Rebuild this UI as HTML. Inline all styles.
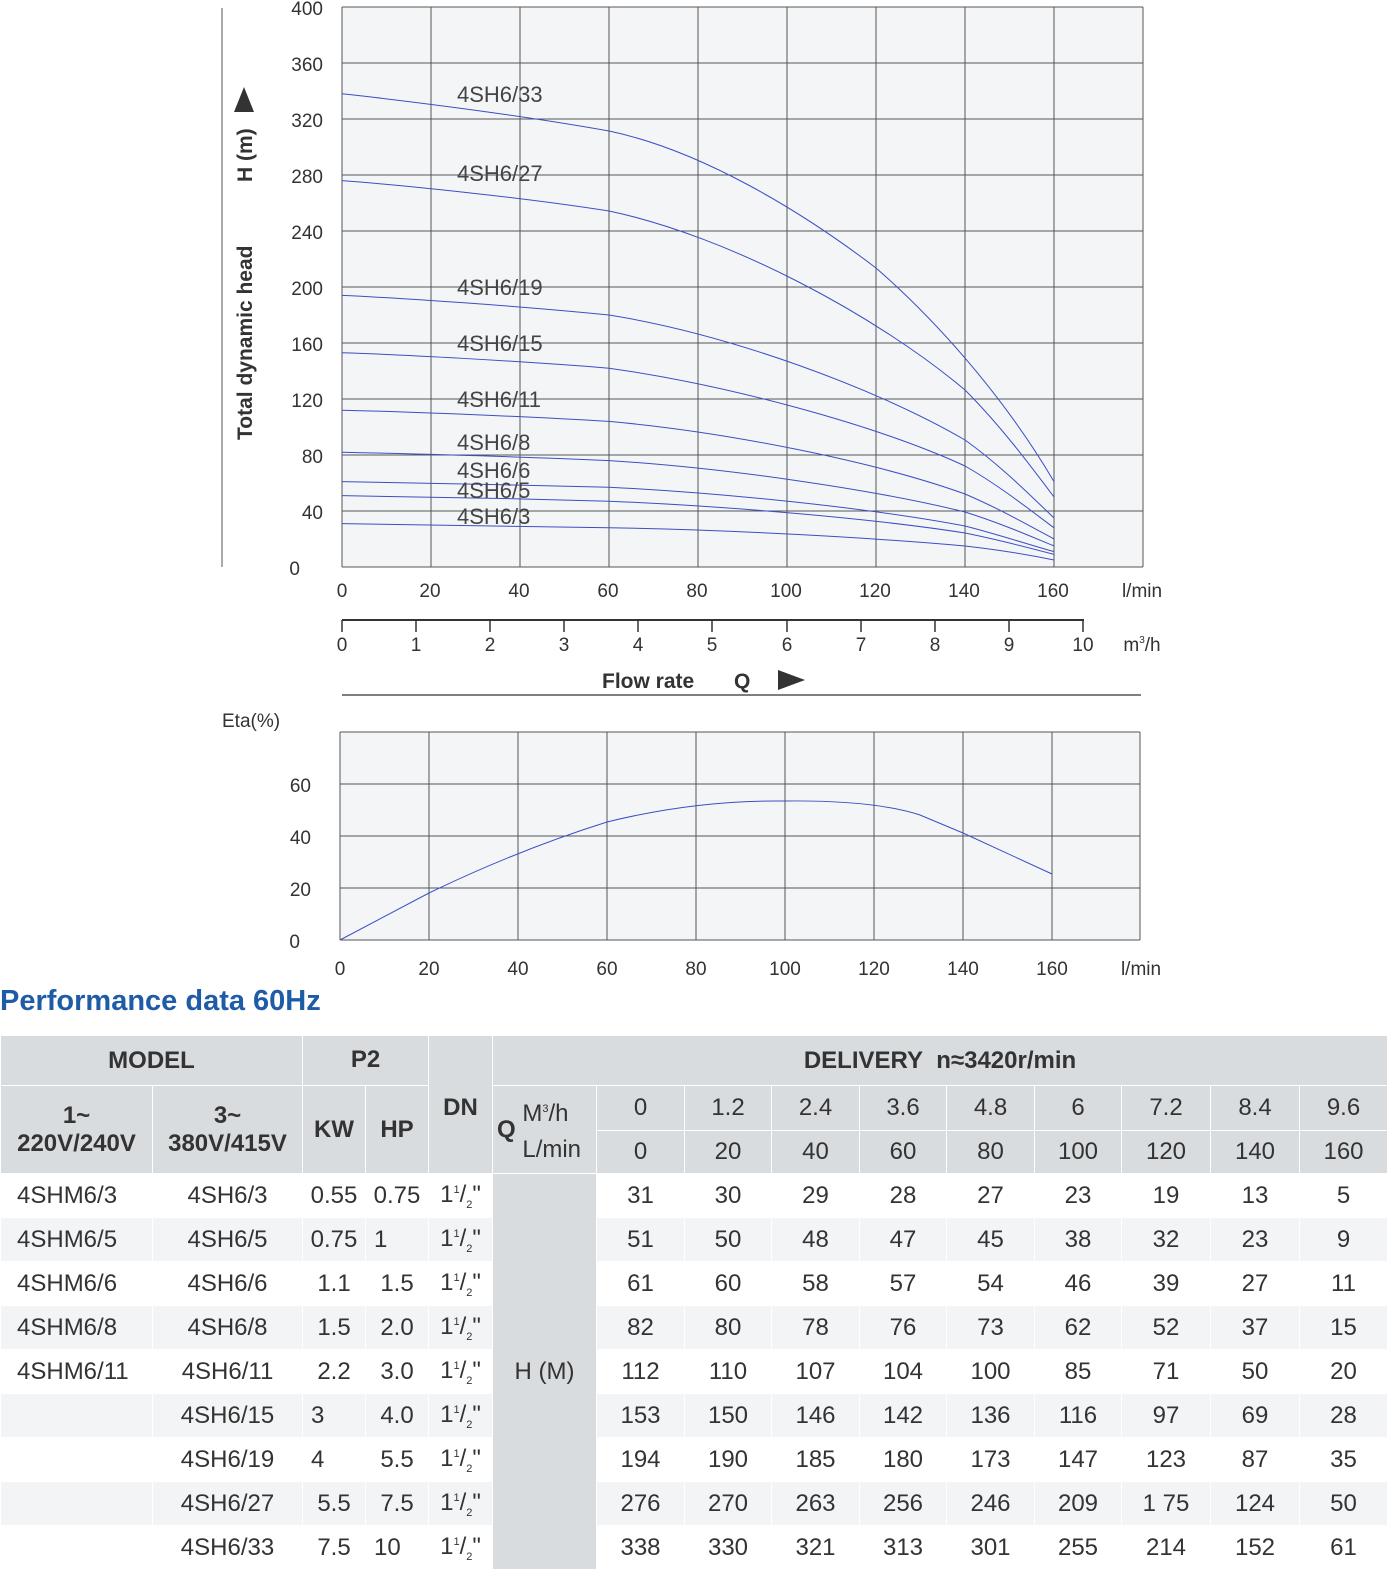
<!DOCTYPE html>
<html><head><meta charset="utf-8"><style>
body{margin:0;background:#fff;width:1400px;height:1583px;position:relative;overflow:hidden;font-family:"Liberation Sans",sans-serif}
svg{position:absolute;left:0;top:0}
.t{position:absolute;left:0;top:1035px;border-collapse:collapse;table-layout:fixed;font-family:"Liberation Sans Narrow","Liberation Sans",sans-serif;color:#333;font-size:24px}
.t td{border:1px solid #fff;text-align:center;padding:0;white-space:nowrap}
.h td{background:#d8dcdf;font-weight:bold;color:#333}
.h td.n{font-weight:normal}
.w td{background:#fff}
.g td{background:#f3f4f6}
.t td.hm{background:#d8dcdf;font-weight:normal}
.l{text-align:left!important;padding-left:16px!important}
sup,sub{font-size:11px}
</style></head><body>
<svg width="1400" height="1030" font-family="Liberation Sans, sans-serif">
<rect x="342" y="7" width="801" height="560" fill="#f4f5f7"/>
<g stroke="#555" stroke-width="1">
<line x1="342" y1="7" x2="1143" y2="7"/><line x1="342" y1="63" x2="1143" y2="63"/><line x1="342" y1="119" x2="1143" y2="119"/><line x1="342" y1="175" x2="1143" y2="175"/><line x1="342" y1="231" x2="1143" y2="231"/><line x1="342" y1="287" x2="1143" y2="287"/><line x1="342" y1="343" x2="1143" y2="343"/><line x1="342" y1="399" x2="1143" y2="399"/><line x1="342" y1="455" x2="1143" y2="455"/><line x1="342" y1="511" x2="1143" y2="511"/><line x1="342" y1="567" x2="1143" y2="567"/>
<line x1="342" y1="7" x2="342" y2="567"/><line x1="431" y1="7" x2="431" y2="567"/><line x1="520" y1="7" x2="520" y2="567"/><line x1="609" y1="7" x2="609" y2="567"/><line x1="698" y1="7" x2="698" y2="567"/><line x1="787" y1="7" x2="787" y2="567"/><line x1="876" y1="7" x2="876" y2="567"/><line x1="965" y1="7" x2="965" y2="567"/><line x1="1054" y1="7" x2="1054" y2="567"/><line x1="1143" y1="7" x2="1143" y2="567"/>
<line x1="222" y1="8" x2="222" y2="567"/>
</g>
<g id="curves" fill="none" stroke="#3a4fc4" stroke-width="1">
<path d="M342,523.6 C372,524.5 490,526.7 609,527.8 C728,529.5 876,538 965,546 C1000,550 1030,555 1054,560"/>
<path d="M342,495.6 C400,496.5 520,498.5 609,501.2 C728,506 876,519 965,533 C1000,540 1030,548 1054,554.4"/>
<path d="M342,481.6 C400,482.5 520,485 609,487.2 C728,493 876,509 965,526 C1000,535 1030,545 1054,551.6"/>
<path d="M342,452.2 C400,453.5 520,456.5 609,460.6 C728,468 876,490 965,512 C1000,523 1030,536 1054,546"/>
<path d="M342,410.2 C400,411.5 520,416 609,421.4 C728,432 876,462 965,494 C1000,509 1030,526 1054,539"/>
<path d="M342,352.8 C400,354.5 520,361 609,368.2 C728,385 876,425 965,466 C1000,486 1030,510 1054,527.8"/>
<path d="M342,295.4 C400,298 520,306 609,315 C728,334 876,388 965,440 C1000,465 1030,495 1054,518"/>
<path d="M342,180.6 C400,185 520,197 609,211 C728,236 876,315 965,390 C1000,425 1030,465 1054,497"/>
<path d="M342,93.8 C400,100 520,115 609,131 C700,150 800,210 876,268 C930,315 1000,390 1054,481.6"/>
</g>
<g font-size="22" fill="#444">
<text x="457" y="102">4SH6/33</text><text x="457" y="181">4SH6/27</text><text x="457" y="295">4SH6/19</text><text x="457" y="351">4SH6/15</text><text x="457" y="407">4SH6/11</text><text x="457" y="450">4SH6/8</text><text x="457" y="478">4SH6/6</text><text x="457" y="498">4SH6/5</text><text x="457" y="524">4SH6/3</text>
</g>
<g font-size="19" fill="#333" text-anchor="end">
<text x="323" y="15">400</text><text x="323" y="71">360</text><text x="323" y="127">320</text><text x="323" y="183">280</text><text x="323" y="239">240</text><text x="323" y="295">200</text><text x="323" y="351">160</text><text x="323" y="407">120</text><text x="323" y="463">80</text><text x="323" y="519">40</text><text x="300" y="575">0</text>
</g>
<text transform="translate(252,440) rotate(-90)" font-size="21" font-weight="bold" fill="#333">Total dynamic head</text>
<text transform="translate(252,182) rotate(-90)" font-size="21" font-weight="bold" fill="#333">H (m)</text>
<polygon points="244,87 234,112 254,112" fill="#333"/>
<g font-size="19" fill="#333" text-anchor="middle">
<text x="342" y="597">0</text><text x="430" y="597">20</text><text x="519" y="597">40</text><text x="608" y="597">60</text><text x="697" y="597">80</text><text x="786" y="597">100</text><text x="875" y="597">120</text><text x="964" y="597">140</text><text x="1053" y="597">160</text>
<text x="1142" y="597">l/min</text>
</g>
<g stroke="#333" stroke-width="2"><line x1="342" y1="620" x2="1084" y2="620"/></g>
<g stroke="#333" stroke-width="1.5">
<line x1="342" y1="620" x2="342" y2="632"/><line x1="416" y1="620" x2="416" y2="632"/><line x1="490" y1="620" x2="490" y2="632"/><line x1="564" y1="620" x2="564" y2="632"/><line x1="638" y1="620" x2="638" y2="632"/><line x1="712" y1="620" x2="712" y2="632"/><line x1="787" y1="620" x2="787" y2="632"/><line x1="861" y1="620" x2="861" y2="632"/><line x1="935" y1="620" x2="935" y2="632"/><line x1="1009" y1="620" x2="1009" y2="632"/><line x1="1083" y1="620" x2="1083" y2="632"/>
</g>
<g font-size="19" fill="#333" text-anchor="middle">
<text x="342" y="651">0</text><text x="416" y="651">1</text><text x="490" y="651">2</text><text x="564" y="651">3</text><text x="638" y="651">4</text><text x="712" y="651">5</text><text x="787" y="651">6</text><text x="861" y="651">7</text><text x="935" y="651">8</text><text x="1009" y="651">9</text><text x="1083" y="651">10</text>
<text x="1142" y="651">m<tspan font-size="10" dy="-8">3</tspan><tspan dy="8">/h</tspan></text>
</g>
<text x="602" y="688" font-size="21" font-weight="bold" fill="#333">Flow rate</text>
<text x="734" y="688" font-size="21" font-weight="bold" fill="#333">Q</text>
<polygon points="778,670 778,690 805,680" fill="#333"/>
<line x1="342" y1="695" x2="1141" y2="695" stroke="#333" stroke-width="1.2"/>
<text x="222" y="727" font-size="19" fill="#333">Eta(%)</text>
<rect x="340" y="732" width="800" height="208" fill="#f4f5f7"/>
<g stroke="#555" stroke-width="1">
<line x1="340" y1="732" x2="1140" y2="732"/><line x1="340" y1="784" x2="1140" y2="784"/><line x1="340" y1="836" x2="1140" y2="836"/><line x1="340" y1="888" x2="1140" y2="888"/><line x1="340" y1="940" x2="1140" y2="940"/>
<line x1="340" y1="732" x2="340" y2="940"/><line x1="429" y1="732" x2="429" y2="940"/><line x1="518" y1="732" x2="518" y2="940"/><line x1="607" y1="732" x2="607" y2="940"/><line x1="696" y1="732" x2="696" y2="940"/><line x1="785" y1="732" x2="785" y2="940"/><line x1="874" y1="732" x2="874" y2="940"/><line x1="963" y1="732" x2="963" y2="940"/><line x1="1052" y1="732" x2="1052" y2="940"/><line x1="1140" y1="732" x2="1140" y2="940"/>
</g>
<path d="M340,940 L429,893 Q518,850 607,822 Q696,800 785,801 Q874,800 920,815 L963,833 L1052,874" fill="none" stroke="#3a4fc4" stroke-width="1"/>
<g font-size="19" fill="#333" text-anchor="end">
<text x="311" y="792">60</text><text x="311" y="844">40</text><text x="311" y="896">20</text><text x="300" y="948">0</text>
</g>
<g font-size="19" fill="#333" text-anchor="middle">
<text x="340" y="975">0</text><text x="429" y="975">20</text><text x="518" y="975">40</text><text x="607" y="975">60</text><text x="696" y="975">80</text><text x="785" y="975">100</text><text x="874" y="975">120</text><text x="963" y="975">140</text><text x="1052" y="975">160</text><text x="1141" y="975">l/min</text>
</g>
<text x="0" y="1010" font-size="29" font-weight="bold" fill="#1f5ca8">Performance data 60Hz</text>
</svg>
<table class="t">
<colgroup><col style="width:152px"><col style="width:150px"><col style="width:63px"><col style="width:63px"><col style="width:64px"><col style="width:104px"><col style="width:88px"><col style="width:87px"><col style="width:88px"><col style="width:87px"><col style="width:88px"><col style="width:87px"><col style="width:89px"><col style="width:89px"><col style="width:88px"></colgroup>
<tr class="h" style="height:50px"><td colspan="2">MODEL</td><td colspan="2" style="vertical-align:top;padding-top:10px">P2</td><td rowspan="3" style="vertical-align:top;padding-top:58px">DN</td><td colspan="10">DELIVERY&nbsp; n≈3420r/min</td></tr>
<tr class="h" style="height:45px"><td rowspan="2">1~<br>220V/240V</td><td rowspan="2">3~<br>380V/415V</td><td rowspan="2">KW</td><td rowspan="2">HP</td><td rowspan="2" class="n" style="text-align:left;padding-left:4px;line-height:36px"><b style="display:inline-block;vertical-align:middle">Q</b> <span style="display:inline-block;vertical-align:middle;line-height:36px">M<sup>3</sup>/h<br>L/min</span></td><td class="n">0</td><td class="n">1.2</td><td class="n">2.4</td><td class="n">3.6</td><td class="n">4.8</td><td class="n">6</td><td class="n">7.2</td><td class="n">8.4</td><td class="n">9.6</td></tr>
<tr class="h" style="height:43px"><td class="n">0</td><td class="n">20</td><td class="n">40</td><td class="n">60</td><td class="n">80</td><td class="n">100</td><td class="n">120</td><td class="n">140</td><td class="n">160</td></tr>
<tr class="w" style="height:44px"><td class="l">4SHM6/3</td><td>4SH6/3</td><td>0.55</td><td>0.75</td><td>1<sup>1</sup>/<sub>2</sub>"</td><td rowspan="9" class="hm">H (M)</td><td>31</td><td>30</td><td>29</td><td>28</td><td>27</td><td>23</td><td>19</td><td>13</td><td>5</td></tr>
<tr class="g" style="height:44px"><td class="l">4SHM6/5</td><td>4SH6/5</td><td>0.75</td><td class="l" style="padding-left:8px!important">1</td><td>1<sup>1</sup>/<sub>2</sub>"</td><td>51</td><td>50</td><td>48</td><td>47</td><td>45</td><td>38</td><td>32</td><td>23</td><td>9</td></tr>
<tr class="w" style="height:44px"><td class="l">4SHM6/6</td><td>4SH6/6</td><td>1.1</td><td>1.5</td><td>1<sup>1</sup>/<sub>2</sub>"</td><td>61</td><td>60</td><td>58</td><td>57</td><td>54</td><td>46</td><td>39</td><td>27</td><td>11</td></tr>
<tr class="g" style="height:44px"><td class="l">4SHM6/8</td><td>4SH6/8</td><td>1.5</td><td>2.0</td><td>1<sup>1</sup>/<sub>2</sub>"</td><td>82</td><td>80</td><td>78</td><td>76</td><td>73</td><td>62</td><td>52</td><td>37</td><td>15</td></tr>
<tr class="w" style="height:44px"><td class="l">4SHM6/11</td><td>4SH6/11</td><td>2.2</td><td>3.0</td><td>1<sup>1</sup>/<sub>2</sub>"</td><td>112</td><td>110</td><td>107</td><td>104</td><td>100</td><td>85</td><td>71</td><td>50</td><td>20</td></tr>
<tr class="g" style="height:44px"><td></td><td>4SH6/15</td><td class="l" style="padding-left:8px!important">3</td><td>4.0</td><td>1<sup>1</sup>/<sub>2</sub>"</td><td>153</td><td>150</td><td>146</td><td>142</td><td>136</td><td>116</td><td>97</td><td>69</td><td>28</td></tr>
<tr class="w" style="height:44px"><td></td><td>4SH6/19</td><td class="l" style="padding-left:8px!important">4</td><td>5.5</td><td>1<sup>1</sup>/<sub>2</sub>"</td><td>194</td><td>190</td><td>185</td><td>180</td><td>173</td><td>147</td><td>123</td><td>87</td><td>35</td></tr>
<tr class="g" style="height:44px"><td></td><td>4SH6/27</td><td>5.5</td><td>7.5</td><td>1<sup>1</sup>/<sub>2</sub>"</td><td>276</td><td>270</td><td>263</td><td>256</td><td>246</td><td>209</td><td>1 75</td><td>124</td><td>50</td></tr>
<tr class="w" style="height:44px"><td></td><td>4SH6/33</td><td>7.5</td><td class="l" style="padding-left:8px!important">10</td><td>1<sup>1</sup>/<sub>2</sub>"</td><td>338</td><td>330</td><td>321</td><td>313</td><td>301</td><td>255</td><td>214</td><td>152</td><td>61</td></tr>
</table>
</body></html>
